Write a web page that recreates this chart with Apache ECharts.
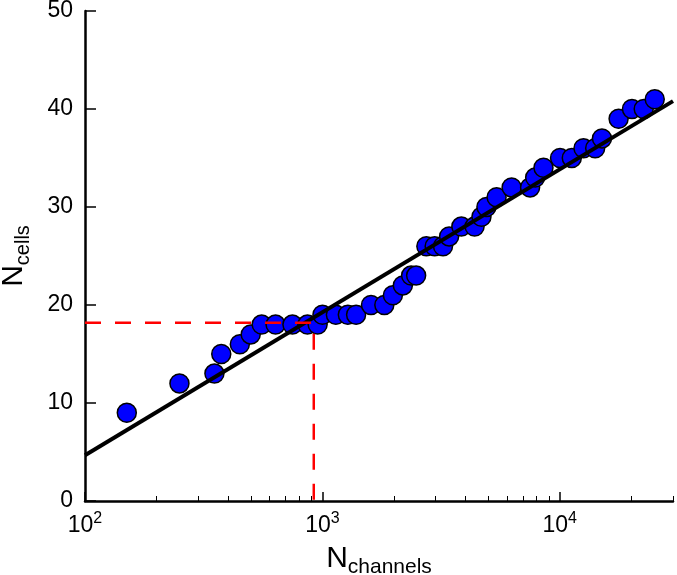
<!DOCTYPE html>
<html>
<head>
<meta charset="utf-8">
<script src="https://cdn.jsdelivr.net/npm/echarts@6/dist/echarts.min.js"></script>
<style>html,body{margin:0;padding:0;background:#fff}#c{width:677px;height:575px}</style>
</head>
<body>
<div id="c"></div>
<script>
const channels = [150, 250, 351, 375, 449, 499, 555, 635, 748, 865, 955, 1001, 1140, 1280, 1387, 1603, 1824, 1982, 2183, 2365, 2483, 2742, 2972, 3223, 3420, 3850, 4378, 4680, 4910, 5420, 6270, 7500, 7880, 8540, 10030, 11240, 12590, 14100, 15060, 17700, 20150, 22580, 25130];
const cells = [9, 12, 13, 15, 16, 17, 18, 18, 18, 18, 18, 19, 19, 19, 19, 20, 20, 21, 22, 23, 23, 26, 26, 26, 27, 28, 28, 29, 30, 31, 32, 32, 33, 34, 35, 35, 36, 36, 37, 39, 40, 40, 41];
const fitX = [100, 30000];
const fitY = [4.66, 40.8];
const guideX = [100, 920, 920];
const guideY = [18.2, 18.2, 0];
const yTicks = [0, 10, 20, 30, 40, 50];
const xMajor = [100, 1000, 10000];
const xMinor = [200, 300, 400, 500, 600, 700, 800, 900, 2000, 3000, 4000, 5000, 6000, 7000, 8000, 9000, 20000, 30000];

const chart = echarts.init(document.getElementById('c'));
const font = 'Liberation Sans, Arial, sans-serif';
const zip = (a, b) => a.map((v, i) => [v, b[i]]);

chart.setOption({
  animation: false,
  grid: { left: 85, right: 4, top: 11, bottom: 74, outerBoundsMode: 'none' },
  xAxis: [{
    type: 'log', logBase: 10, min: 100, max: 30000,
    name: '{n|N}{s|channels}', nameLocation: 'middle', nameGap: 38,
    nameTextStyle: { rich: {
      n: { fontSize: 30, fontFamily: font, color: '#000' },
      s: { fontSize: 21, fontFamily: font, color: '#000', padding: [18, 0, 0, 0] }
    } },
    axisLine: { show: true, lineStyle: { color: '#000', width: 2.5 } },
    axisTick: { show: true, inside: true, length: 9, lineStyle: { color: '#000', width: 1.5 }, customValues: xMajor },
    axisLabel: {
      customValues: xMajor, margin: 10, color: '#000',
      formatter: v => '{b|10}{s|' + Math.round(Math.log10(v)) + '}',
      rich: {
        b: { fontSize: 23, fontFamily: font, color: '#000' },
        s: { fontSize: 16, fontFamily: font, color: '#000', padding: [0, 0, 14, 0] }
      }
    },
    splitLine: { show: false }
  }, {
    type: 'log', logBase: 10, min: 100, max: 30000, position: 'bottom',
    axisLine: { show: false },
    axisTick: { show: true, inside: true, length: 5, lineStyle: { color: '#000', width: 1 }, customValues: xMinor },
    axisLabel: { show: false },
    splitLine: { show: false }
  }],
  yAxis: {
    type: 'value', min: 0, max: 50, interval: 10,
    name: '{n|N}{s|cells}', nameLocation: 'middle', nameGap: 52, nameRotate: 90,
    nameTextStyle: { rich: {
      n: { fontSize: 30, fontFamily: font, color: '#000' },
      s: { fontSize: 20, fontFamily: font, color: '#000', padding: [18, 0, 0, 0] }
    } },
    axisLine: { show: true, lineStyle: { color: '#000', width: 2.5 } },
    axisTick: { show: true, inside: true, length: 11, lineStyle: { color: '#000', width: 1.5 }, customValues: yTicks },
    axisLabel: { color: '#000', fontSize: 23, fontFamily: font, margin: 12, customValues: yTicks },
    splitLine: { show: false }
  },
  series: [{
    type: 'scatter', data: zip(channels, cells), symbol: 'circle', symbolSize: 19, z: 2,
    itemStyle: { color: '#0000ff', borderColor: '#000', borderWidth: 1.5, opacity: 1 }
  }, {
    type: 'line', data: zip(fitX, fitY), symbol: 'none', z: 3,
    lineStyle: { color: '#000', width: 4 }
  }, {
    type: 'line', data: zip(guideX, guideY), symbol: 'none', z: 4,
    lineStyle: { color: '#ff0000', width: 2.5, type: [16, 14] }
  }]
});
</script>
</body>
</html>
